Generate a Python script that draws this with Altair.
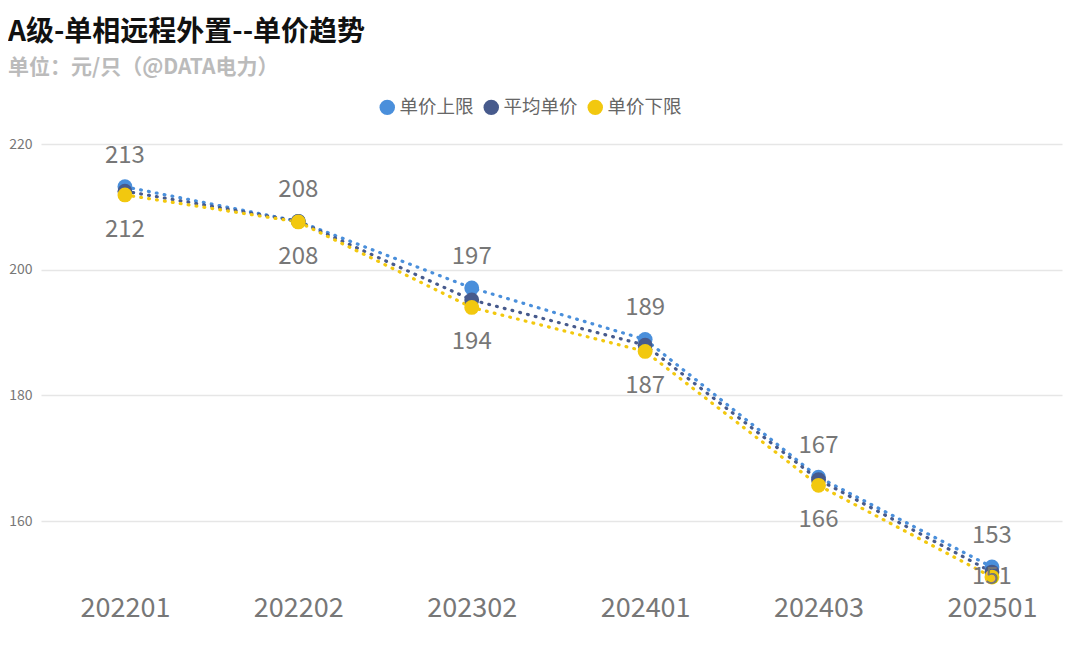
import altair as alt
import pandas as pd

periods = ["202201", "202202", "202302", "202401", "202403", "202501"]
series_names = ["单价上限", "平均单价", "单价下限"]
upper = [213.2, 207.7, 197.1, 188.9, 167.0, 152.7]
average = [212.5, 207.7, 195.2, 188.0, 166.6, 151.9]
lower = [211.9, 207.6, 194.0, 187.0, 165.7, 151.1]
colors = ["#4A8FDB", "#475A8C", "#F2C80F"]
y_ticks = [160, 180, 200, 220]

rows = []
for name, vals in zip(series_names, [upper, average, lower]):
    for p, v in zip(periods, vals):
        rows.append({"period": p, "series": name, "value": v})
df = pd.DataFrame(rows)

FONT = "Noto Sans CJK SC"

x_enc = alt.X("period:N", sort=periods, title=None,
              scale=alt.Scale(type="point", padding=0.444, align=0.545),
              axis=alt.Axis(labelAngle=0, labelFontSize=27, labelColor="#777777",
                            labelFont=FONT, ticks=False, domain=False, grid=False,
                            labelPadding=11))
y_scale = alt.Scale(domain=[150, 220], nice=False, zero=False)
color_enc = alt.Color("series:N", sort=series_names,
                      scale=alt.Scale(domain=series_names, range=colors),
                      legend=alt.Legend(title=None, orient="none", direction="horizontal",
                                        legendX=337, legendY=-46, symbolType="circle",
                                        symbolSize=240, symbolStrokeWidth=0,
                                        labelFontSize=18.5, labelColor="#666666",
                                        labelFont=FONT, columnPadding=8, labelOffset=3,
                                        symbolOpacity=1))

base = alt.Chart(df)

lines = base.mark_line(strokeDash=[0.8, 7.2], strokeWidth=3.2, strokeCap="round").encode(
    x=x_enc,
    y=alt.Y("value:Q", scale=y_scale, title=None,
            axis=alt.Axis(values=y_ticks, labelFontSize=14, labelColor="#777777",
                          labelFont=FONT, ticks=False, domain=False,
                          gridColor="#E6E6E6", gridWidth=1.5, labelPadding=9)),
    color=color_enc,
    detail="series:N",
)

points = base.mark_circle(size=220, opacity=1).encode(
    x=x_enc,
    y=alt.Y("value:Q", scale=y_scale),
    color=color_enc,
)

upper_labels = base.transform_filter(alt.datum.series == "单价上限").mark_text(
    dy=-31, fontSize=24, color="#777777", font=FONT, baseline="middle"
).encode(
    x=x_enc,
    y=alt.Y("value:Q", scale=y_scale),
    text=alt.Text("value:Q", format=".0f"),
)

lower_labels = base.transform_filter(alt.datum.series == "单价下限").transform_calculate(
    label_y="max(datum.value, 156.7)"
).mark_text(
    dy=35, fontSize=24, color="#777777", font=FONT, baseline="middle"
).encode(
    x=x_enc,
    y=alt.Y("label_y:Q", scale=y_scale),
    text=alt.Text("value:Q", format=".0f"),
)

chart = alt.layer(lines, points, upper_labels, lower_labels).properties(
    width=1021,
    height=440,
    autosize=alt.AutoSizeParams(type="none"),
    padding={"left": 33, "top": 136, "right": 8, "bottom": 50},
    title=alt.TitleParams(
        text="A级-单相远程外置--单价趋势",
        subtitle="单位：元/只（@DATA电力）",
        anchor="start", frame="group", dx=-33, offset=20,
        font=FONT, fontSize=28, fontWeight="bold", color="#111111",
        subtitleFont=FONT, subtitleFontSize=21, subtitleFontWeight="bold",
        subtitleColor="#BBBBBB", subtitlePadding=10,
    ),
).configure_view(stroke=None)

chart.save("out.html", embed_options={"renderer": "svg", "actions": False})
